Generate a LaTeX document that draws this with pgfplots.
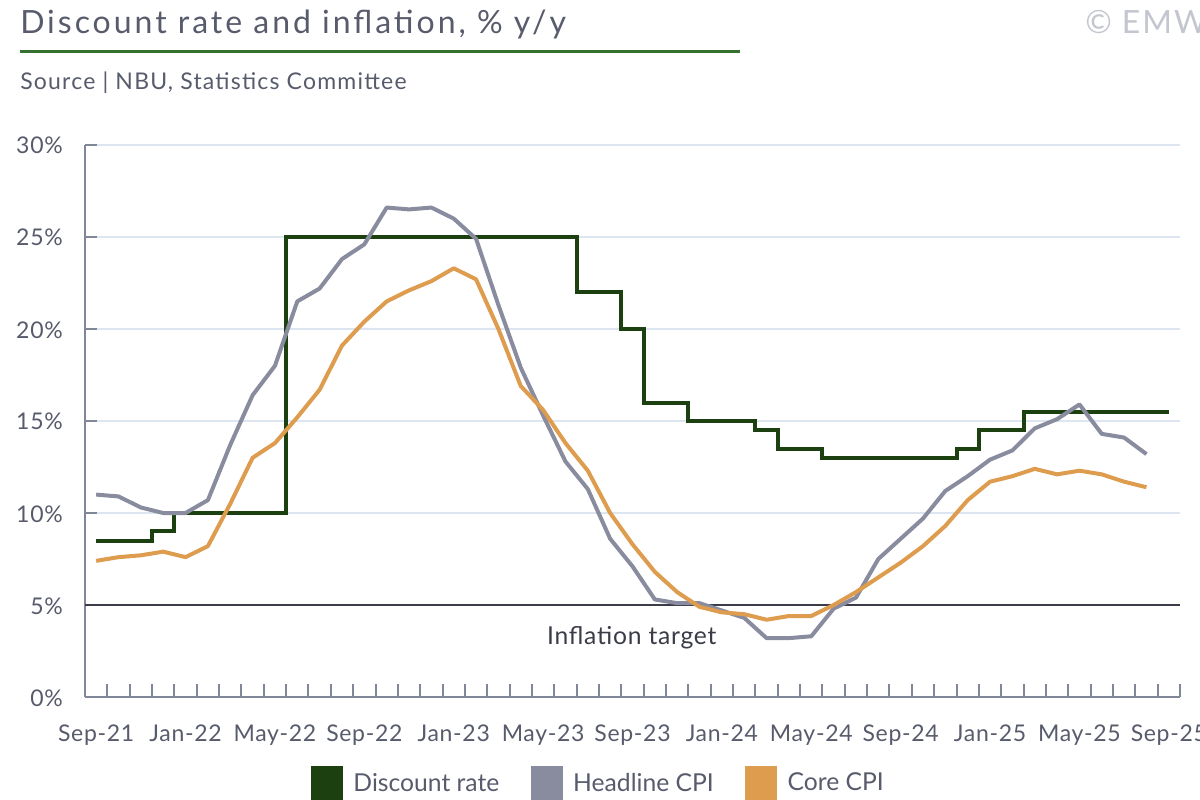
\documentclass[border=0pt]{standalone}
\usepackage{fontspec}
\setmainfont{Lato}
\usepackage{pgfplots}
\pgfplotsset{compat=1.18}
\definecolor{discount}{HTML}{1C400F}
\definecolor{headline}{HTML}{888C9E}
\definecolor{core}{HTML}{DD9C4E}
\definecolor{txt}{HTML}{575B6B}
\definecolor{axisgray}{HTML}{7F8799}
\definecolor{gridc}{HTML}{DCE5F0}
\definecolor{titlegreen}{HTML}{36702E}
\definecolor{target}{HTML}{3A3C48}
\definecolor{emw}{HTML}{C3C6CE}
\begin{document}
\begin{tikzpicture}
\useasboundingbox (0,0) rectangle (900pt,600pt);
\begin{scope}[x=0.75pt,y=-0.75pt,yshift=600pt]
\node[anchor=base west, inner sep=0, text=txt, font=\fontsize{24}{28}\selectfont\addfontfeatures{LetterSpace=9.3}] at (20,33.3) {Discount rate and inflation, \% y/y};
\fill[titlegreen] (20,50) rectangle (740,53.5);
\node[anchor=base west, inner sep=0, text=txt, font=\fontsize{17.25}{20}\selectfont\addfontfeatures{LetterSpace=5.3}] at (20,89.3) {Source | NBU, Statistics Committee};
\node[anchor=base west, inner sep=0, text=emw, font=\fontsize{24}{28}\selectfont\addfontfeatures{LetterSpace=6}] at (1085,33.3) {© EMW};
\end{scope}
\begin{axis}[
  at={(63.75pt,77.25pt)}, anchor=south west, scale only axis,
  width=821.25pt, height=414pt,
  xmin=-0.5, xmax=48.5, ymin=0, ymax=30,
  axis lines=left,
  axis line style={-, axisgray, line width=1.5pt},
  tick align=inside,
  xtick={0,4,...,48},
  xticklabels={Sep-21,Jan-22,May-22,Sep-22,Jan-23,May-23,Sep-23,Jan-24,May-24,Sep-24,Jan-25,May-25,Sep-25},
  minor xtick={0.5,1.5,...,48.5},
  major x tick style={draw=none},
  minor x tick style={axisgray, line width=1.5pt},
  minor tick length=9.75pt,
  ytick={0,5,...,30},
  major y tick style={axisgray, line width=1.5pt},
  major tick length=9pt,
  ymajorgrids,
  major grid style={gridc, line width=1.5pt},
  /pgf/number format/assume math mode=true,
  yticklabel={\pgfmathprintnumber{\tick}\%},
  ticklabel style={text=txt, font=\fontsize{17.25}{20}\selectfont\addfontfeatures{LetterSpace=3}},
  yticklabel style={anchor=base east, inner sep=0pt, xshift=-16.5pt, yshift=-6.75pt},
  xticklabel style={anchor=base, inner sep=0pt, yshift=-33.5pt},
  clip=false,
  legend columns=3,
  legend style={at={(axis description cs:0.2064,-0.1558)}, anchor=west, draw=none, fill=none,
    font=\fontsize{18.5}{22}\selectfont, text=txt, inner sep=0pt,
    /tikz/column sep=6pt,
    /tikz/every even column/.append style={column sep=21.75pt}},
  legend cell align=left,
]
\addplot[target, line width=1.5pt, forget plot] coordinates {(-0.5,5) (48.5,5)};
\addplot[discount, line width=3pt, const plot mark mid, line join=miter, forget plot] coordinates {
(0,8.5)(1,8.5)(2,8.5)(3,9)(4,10)(5,10)(6,10)(7,10)(8,10)(9,25)(10,25)(11,25)(12,25)(13,25)(14,25)(15,25)(16,25)(17,25)(18,25)(19,25)(20,25)(21,25)(22,22)(23,22)(24,20)(25,16)(26,16)(27,15)(28,15)(29,15)(30,14.5)(31,13.5)(32,13.5)(33,13)(34,13)(35,13)(36,13)(37,13)(38,13)(39,13.5)(40,14.5)(41,14.5)(42,15.5)(43,15.5)(44,15.5)(45,15.5)(46,15.5)(47,15.5)(48,15.5)};
\addplot[headline, line width=3pt, line join=round, forget plot] coordinates {
(0,11.0)(1,10.9)(2,10.3)(3,10.0)(4,10.0)(5,10.7)(6,13.7)(7,16.4)(8,18.0)(9,21.5)(10,22.2)(11,23.8)(12,24.6)(13,26.6)(14,26.5)(15,26.6)(16,26.0)(17,24.9)(18,21.3)(19,17.9)(20,15.3)(21,12.8)(22,11.3)(23,8.6)(24,7.1)(25,5.3)(26,5.1)(27,5.1)(28,4.7)(29,4.3)(30,3.2)(31,3.2)(32,3.3)(33,4.8)(34,5.4)(35,7.5)(36,8.6)(37,9.7)(38,11.2)(39,12.0)(40,12.9)(41,13.4)(42,14.6)(43,15.1)(44,15.9)(45,14.3)(46,14.1)(47,13.2)};
\addplot[core, line width=3pt, line join=round, forget plot] coordinates {
(0,7.4)(1,7.6)(2,7.7)(3,7.9)(4,7.6)(5,8.2)(6,10.5)(7,13.0)(8,13.8)(9,15.2)(10,16.7)(11,19.1)(12,20.4)(13,21.5)(14,22.1)(15,22.6)(16,23.3)(17,22.7)(18,20.0)(19,16.9)(20,15.6)(21,13.8)(22,12.3)(23,10.0)(24,8.3)(25,6.8)(26,5.7)(27,4.9)(28,4.6)(29,4.5)(30,4.2)(31,4.4)(32,4.4)(33,5.0)(34,5.7)(35,6.5)(36,7.3)(37,8.2)(38,9.3)(39,10.7)(40,11.7)(41,12.0)(42,12.4)(43,12.1)(44,12.3)(45,12.1)(46,11.7)(47,11.4)};
\addlegendimage{legend image code/.code={\fill[discount] (0pt,-12.4pt) rectangle (23.25pt,12.4pt);}}
\addlegendentry{Discount rate}
\addlegendimage{legend image code/.code={\fill[headline] (0pt,-12.4pt) rectangle (23.25pt,12.4pt);}}
\addlegendentry{Headline CPI}
\addlegendimage{legend image code/.code={\fill[core] (0pt,-12.4pt) rectangle (23.25pt,12.4pt);}}
\addlegendentry{Core CPI}
\node[anchor=base, inner sep=0pt, text=target, font=\fontsize{18.5}{22}\selectfont\addfontfeatures{LetterSpace=3}] at (axis cs:23.97,2.83) {Inflation target};
\end{axis}
\end{tikzpicture}
\end{document}
